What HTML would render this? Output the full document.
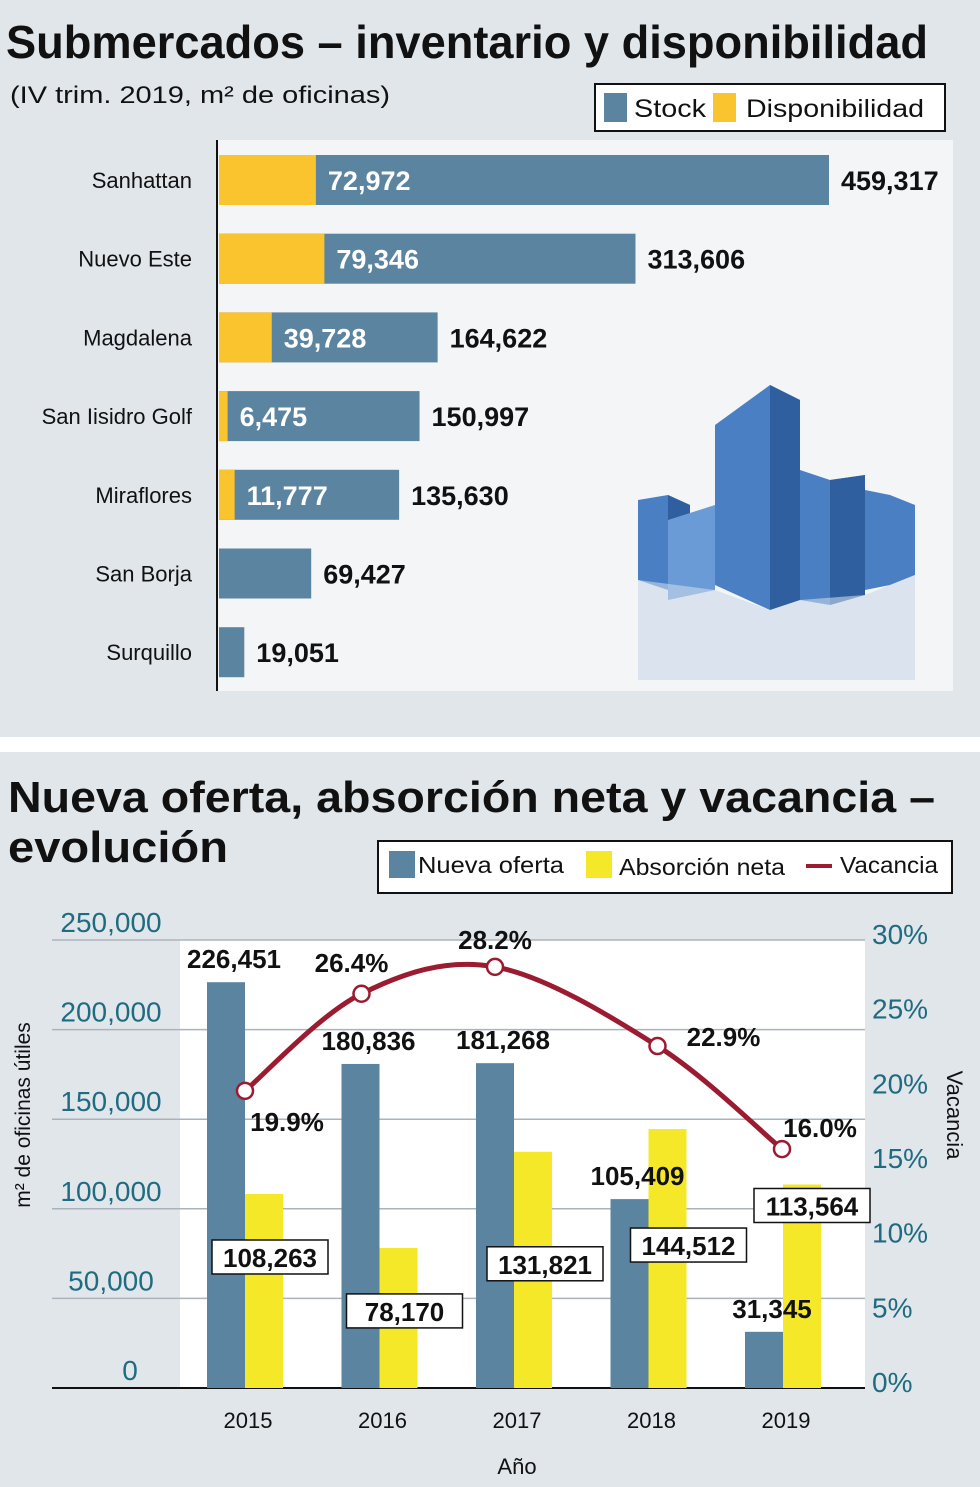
<!DOCTYPE html>
<html><head><meta charset="utf-8"><style>
html,body{margin:0;padding:0;background:#e1e6eb;}
svg{display:block;font-family:"Liberation Sans",sans-serif;}
</style></head><body>
<svg id="chart" width="980" height="1487" viewBox="0 0 980 1487" xmlns="http://www.w3.org/2000/svg">
<rect x="0" y="0" width="980" height="1487" fill="#e1e6eb"/>
<rect x="0" y="737" width="980" height="15" fill="#ffffff"/>
<text x="6" y="58" font-size="46" font-weight="bold" fill="#111" textLength="922" lengthAdjust="spacingAndGlyphs">Submercados – inventario y disponibilidad</text>
<text x="10" y="103" font-size="24" fill="#111" textLength="380" lengthAdjust="spacingAndGlyphs">(IV trim. 2019, m² de oficinas)</text>
<g>
<rect x="595" y="84" width="350" height="47" fill="#fff" stroke="#111" stroke-width="2"/>
<rect x="604" y="93" width="23" height="29" fill="#5b84a0"/>
<text x="634" y="117" font-size="25" fill="#111" textLength="72" lengthAdjust="spacingAndGlyphs">Stock</text>
<rect x="713" y="93" width="23" height="29" fill="#f9c42d"/>
<text x="746" y="117" font-size="25" fill="#111" textLength="178" lengthAdjust="spacingAndGlyphs">Disponibilidad</text>
</g>
<rect x="218" y="140" width="735" height="551" fill="#f4f5f7"/>
<g id="building">
<polygon points="715,425 770,385 800,400 800,600 770,610 715,585" fill="#4a7fc4"/>
<polygon points="770,385 800,400 800,600 770,610" fill="#2f5f9e"/>
<polygon points="638,500 668,495 690,505 690,585 668,590 638,580" fill="#4a7fc4"/>
<polygon points="668,495 690,505 690,585 668,590" fill="#2f5f9e"/>
<polygon points="668,520 715,505 715,590 668,600" fill="#6a9bd6"/>
<polygon points="800,470 830,480 865,475 865,595 830,605 800,600" fill="#4a7fc4"/>
<polygon points="830,480 865,475 865,595 830,605" fill="#2f5f9e"/>
<polygon points="865,490 890,495 915,505 915,575 890,585 865,590" fill="#4a7fc4"/>
<polygon points="715,590 770,610 800,600 865,595 915,575 915,680 638,680 638,580" fill="#c9d7e8" opacity="0.6"/>
</g>
<line x1="217" y1="140" x2="217" y2="691" stroke="#111" stroke-width="2"/>
<g id="topBars"></g>

<text x="8" y="812" font-size="44" font-weight="bold" fill="#111" textLength="927" lengthAdjust="spacingAndGlyphs">Nueva oferta, absorción neta y vacancia –</text>
<text x="8" y="862" font-size="44" font-weight="bold" fill="#111" textLength="220" lengthAdjust="spacingAndGlyphs">evolución</text>
<g>
<rect x="378" y="841" width="574" height="52" fill="#fff" stroke="#111" stroke-width="2"/>
<rect x="389" y="851" width="26" height="27" fill="#5b84a0"/>
<text x="418" y="873" font-size="23" fill="#111" textLength="146" lengthAdjust="spacingAndGlyphs">Nueva oferta</text>
<rect x="586" y="851" width="26" height="27" fill="#f5e829"/>
<text x="619" y="875" font-size="23" fill="#111" textLength="166" lengthAdjust="spacingAndGlyphs">Absorción neta</text>
<line x1="806" y1="866" x2="832" y2="866" stroke="#9b1b30" stroke-width="4"/>
<text x="840" y="873" font-size="23" fill="#111" textLength="98" lengthAdjust="spacingAndGlyphs">Vacancia</text>
</g>
<rect x="180" y="940" width="685" height="448" fill="#ffffff"/>
<g id="bottomChart"></g>
<text transform="translate(30,1115) rotate(-90)" text-anchor="middle" font-size="21" fill="#111">m² de oficinas útiles</text>
<text transform="translate(947,1115) rotate(90)" text-anchor="middle" font-size="22" fill="#111">Vacancia</text>
<text x="517" y="1474" text-anchor="middle" font-size="22" fill="#111">Año</text>
</svg>
<script>
const submarkets = ["Sanhattan","Nuevo Este","Magdalena","San Iisidro Golf","Miraflores","San Borja","Surquillo"];
const stockValues = [459317,313606,164622,150997,135630,69427,19051];
const dispValues = [72972,79346,39728,6475,11777,0,0];

const years = ["2015","2016","2017","2018","2019"];
const newSupply = [226451,180836,181268,105409,31345];
const absorption = [108263,78170,131821,144512,113564];
const vacancy = [19.9,26.4,28.2,22.9,16.0];
const leftTicks = [0,50000,100000,150000,200000,250000];
const rightTicks = [0,5,10,15,20,25,30];

const NS = "http://www.w3.org/2000/svg";
function mk(parent, tag, attrs, text){
  const e = document.createElementNS(NS, tag);
  for (const k in attrs) e.setAttribute(k, attrs[k]);
  if (text !== undefined) e.textContent = text;
  parent.appendChild(e);
  return e;
}
function fmt(v){ return v.toLocaleString("en-US"); }

// Top chart
const tx = v => 219 + v * 610 / 459317;
const ty = i => 180 + i * 78.7;
const tg = document.getElementById("topBars");
submarkets.forEach((name, i) => {
  const yc = ty(i);
  const lab = mk(tg, "text", {x: 192, y: yc + 8, "text-anchor": "end", "font-size": 22, fill: "#111"}, name);
  
  
  const bar = mk(tg, "rect", {x: 219, y: yc - 25, width: tx(stockValues[i]) - 219, height: 50, fill: "#5b84a0"});
  
  
  if (dispValues[i] > 0) {
    const d = mk(tg, "rect", {x: 219, y: yc - 25, width: tx(dispValues[i]) - 219, height: 50, fill: "#f9c42d"});
    
    
    const dl = mk(tg, "text", {x: tx(dispValues[i]) + 12, y: yc + 10, "font-size": 27, "font-weight": "bold", fill: "#fff"}, fmt(dispValues[i]));
    
    
  }
  const sl = mk(tg, "text", {x: tx(stockValues[i]) + 12, y: yc + 10, "font-size": 27, "font-weight": "bold", fill: "#111"}, fmt(stockValues[i]));
  
  
});

// Bottom chart
const by = v => 1388 - v * 448 / 250000;
const ry = p => 1388 - p * 448 / 30;
const bx = i => 248 + i * 134.5;
const bg = document.getElementById("bottomChart");
leftTicks.forEach(t => {
  const gl = mk(bg, "line", {x1: 52, x2: 865, y1: by(t), y2: by(t), stroke: t === 0 ? "#111" : "#aab3bc", "stroke-width": t === 0 ? 2 : 1.5});
  
  
  const tl = mk(bg, "text", {x: t === 0 ? 130 : 111, y: by(t) - 8, "text-anchor": "middle", "font-size": 28, fill: "#1f6b80"}, fmt(t));
  
  
});
rightTicks.forEach(t => {
  const tl = mk(bg, "text", {x: 872, y: ry(t) + 4, "font-size": 28, fill: "#1f6b80"}, t + "%");
  
  
});
// label layout offsets (pixels, relative to bar top / category center)
const absLabelDy = [63, 63, 112, 116, 21];
const absLabelDx = [22, 22, 28, 37, 26];
const vacDx = [-3, -21, -22, 6, -4];
years.forEach((yr, i) => {
  const c = bx(i);
  const b = mk(bg, "rect", {x: c - 41, y: by(newSupply[i]), width: 38, height: 1388 - by(newSupply[i]), fill: "#5b84a0"});
  
  
  const a = mk(bg, "rect", {x: c - 3, y: by(absorption[i]), width: 38, height: 1388 - by(absorption[i]), fill: "#f5e829"});
  
  
  const nl = mk(bg, "text", {x: c - 14, y: by(newSupply[i]) - 14, "text-anchor": "middle", "font-size": 26, "font-weight": "bold", fill: "#111"}, fmt(newSupply[i]));
  
  
  const ly = by(absorption[i]) + absLabelDy[i];
  const lx = c + absLabelDx[i];
  const box = mk(bg, "rect", {x: lx - 58, y: ly - 17, width: 116, height: 34, fill: "#fff", stroke: "#111", "stroke-width": 1.5});
  
  
  const al = mk(bg, "text", {x: lx, y: ly + 10, "text-anchor": "middle", "font-size": 26, "font-weight": "bold", fill: "#111"}, fmt(absorption[i]));
  
  
  const yl = mk(bg, "text", {x: c, y: 1428, "text-anchor": "middle", "font-size": 22, fill: "#111"}, yr);
  
  
});
// vacancy curve (Catmull-Rom)
const pts = vacancy.map((v, i) => [bx(i) + vacDx[i], ry(v)]);
let d = "M" + pts[0][0] + "," + pts[0][1];
for (let i = 0; i < pts.length - 1; i++) {
  const p0 = pts[Math.max(0, i - 1)], p1 = pts[i], p2 = pts[i + 1], p3 = pts[Math.min(pts.length - 1, i + 2)];
  const c1 = [p1[0] + (p2[0] - p0[0]) / 6, p1[1] + (p2[1] - p0[1]) / 6];
  const c2 = [p2[0] - (p3[0] - p1[0]) / 6, p2[1] - (p3[1] - p1[1]) / 6];
  d += " C" + c1[0] + "," + c1[1] + " " + c2[0] + "," + c2[1] + " " + p2[0] + "," + p2[1];
}
const line = mk(bg, "path", {d: d, fill: "none", stroke: "#9b1b30", "stroke-width": 5});


const labelOffsets = [[42, 40], [-10, -22], [0, -18], [66, 0], [38, -12]];
pts.forEach((p, i) => {
  const m = mk(bg, "circle", {cx: p[0], cy: p[1], r: 8, fill: "#fff", stroke: "#9b1b30", "stroke-width": 2.5});
  
  
  const vl = mk(bg, "text", {x: p[0] + labelOffsets[i][0], y: p[1] + labelOffsets[i][1], "text-anchor": "middle", "font-size": 26, "font-weight": "bold", fill: "#111"}, vacancy[i].toFixed(1) + "%");
  
  
});
</script>
</body></html>
